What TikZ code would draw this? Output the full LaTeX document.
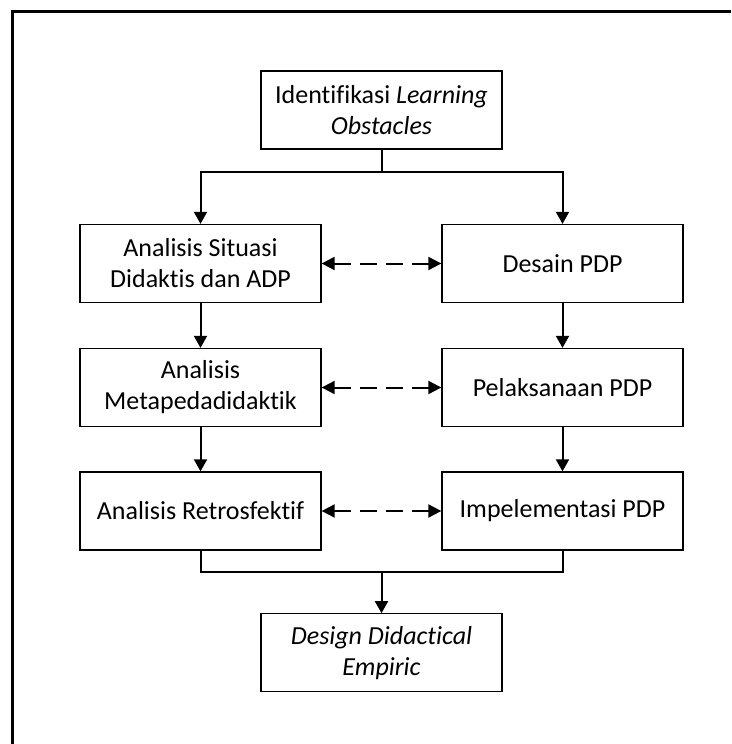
\documentclass[tikz,border=0pt]{standalone}
\usepackage{fontspec}
\setmainfont{Carlito}[Ligatures={NoCommon}]
\usetikzlibrary{arrows.meta}
\begin{document}
\begin{tikzpicture}[x=1pt,y=-1pt,
  box/.style={draw,line width=1.3pt,minimum width=241pt,minimum height=78pt,inner sep=0pt,align=center,font=\fontsize{26}{31}\selectfont},
  conn/.style={line width=2pt},
  arr/.style={conn,-{Triangle[length=12pt,width=13pt]}},
  darr/.style={conn,dash pattern=on 17pt off 9pt,{Triangle[length=13pt,width=13pt]}-{Triangle[length=13pt,width=13pt]}}]
\useasboundingbox (0,0) rectangle (731,744);
\draw[line width=2.5pt] (12.5,744) -- (12.5,11.5) -- (731,11.5);
\node[box] (top) at (381.5,110) {Identifikasi \textit{Learning}\\\textit{Obstacles}};
\node[box] (a1) at (200.5,263.5) {Analisis Situasi\\Didaktis dan ADP};
\node[box] (a2) at (200.5,387.5) {Analisis\\Metapedadidaktik};
\node[box] (a3) at (200.5,511) {Analisis Retrosfektif};
\node[box] (b1) at (562.5,263.5) {Desain PDP};
\node[box] (b2) at (562.5,387.5) {Pelaksanaan PDP};
\node[box] (b3) at (562.5,511) {Impelementasi PDP};
\node[box] (out) at (381.5,652.8) {\textit{Design Didactical}\\\textit{Empiric}};
\coordinate (split) at (381.5,171.7);
\coordinate (merge) at (381.5,572.3);
\draw[conn] (top.south) -- (split);
\draw[arr] (split) -| (a1.north);
\draw[arr] (split) -| (b1.north);
\draw[arr] (a1) -- (a2);
\draw[arr] (a2) -- (a3);
\draw[arr] (b1) -- (b2);
\draw[arr] (b2) -- (b3);
\draw[conn] (a3.south) |- (merge);
\draw[conn] (b3.south) |- (merge);
\draw[arr] (merge) -- (out.north);
\draw[darr] (a1.east) -- (b1.west);
\draw[darr] (a2.east) -- (b2.west);
\draw[darr] (a3.east) -- (b3.west);
\end{tikzpicture}
\end{document}
